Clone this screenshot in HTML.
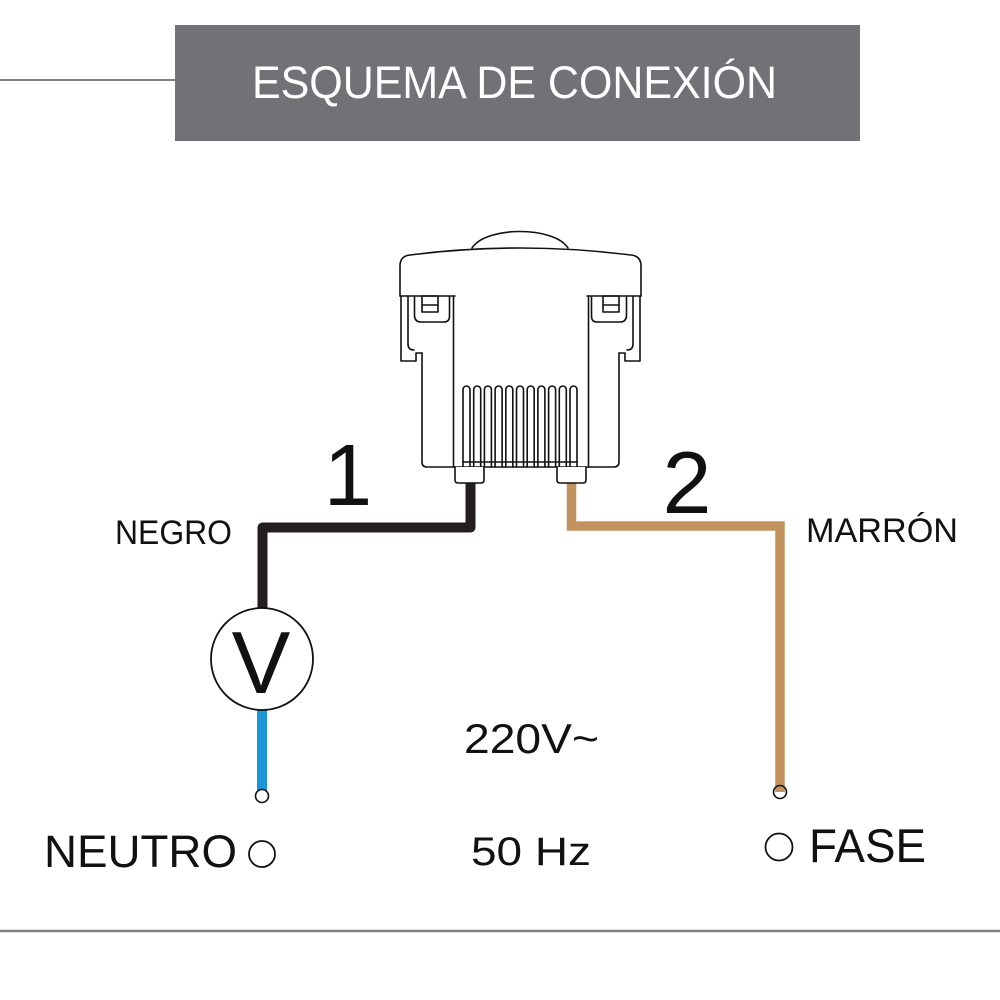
<!DOCTYPE html>
<html>
<head>
<meta charset="utf-8">
<style>
  html,body{margin:0;padding:0;background:#fff;}
  svg{display:block;}
  text{font-family:"Liberation Sans", Arial, sans-serif;}
</style>
</head>
<body>
<svg width="1000" height="1000" viewBox="0 0 1000 1000" xmlns="http://www.w3.org/2000/svg">
  <rect x="0" y="0" width="1000" height="1000" fill="#ffffff"/>

  <!-- Header -->
  <line x1="0" y1="80" x2="176" y2="80" stroke="#7f7f7f" stroke-width="2"/>
  <rect x="175" y="25" width="685" height="116" fill="#727176"/>
  <text x="252" y="98" font-size="45" fill="#ffffff" textLength="525" lengthAdjust="spacingAndGlyphs">ESQUEMA DE CONEXIÓN</text>

  <!-- Bottom line -->
  <line x1="0" y1="931" x2="1000" y2="931" stroke="#7f7f7f" stroke-width="2.5"/>

  <!-- Wires -->
  <path d="M470.5,482 V527.5 H262.5 V610" fill="none" stroke="#231f20" stroke-width="10" stroke-linejoin="round"/>
  <path d="M571.5,482 V526 H780 V792" fill="none" stroke="#c3935f" stroke-width="9.5" stroke-linejoin="miter"/>
  <path d="M262,708 V796" fill="none" stroke="#1b96d6" stroke-width="10"/>

  <!-- Device -->
  <g fill="none" stroke="#111" stroke-width="1.6" stroke-linejoin="round" stroke-linecap="round">
    <!-- dome -->
    <path d="M472,248 C486,226 554,226 568,248"/>
    <!-- cap -->
    <path d="M400,296 V266 Q400,256 410,255 Q520,241 631,255 Q641,256 641,266 V296"/>
    <line x1="400" y1="296" x2="455" y2="296"/>
    <line x1="587" y1="296" x2="641" y2="296"/>
    <!-- central body -->
    <path d="M453.5,296 V467"/>
    <path d="M588.5,296 V467"/>
    <!-- left clip -->
    <path d="M401,296 V361 H416 V353 H422"/>
    <path d="M408,296 V344 Q408,350 414,350"/>
    <!-- left notch -->
    <path d="M414.5,297 V316 Q415,322 421,322 H444 Q449.5,322 449.5,316 V297"/>
    <!-- right clip -->
    <path d="M640,296 V361 H625 V353 H619"/>
    <path d="M633,296 V344 Q633,350 627,350"/>
    <!-- right notch -->
    <path d="M626.5,297 V316 Q626,322 620,322 H597 Q591.5,322 591.5,316 V297"/>
    <!-- latches -->
    <rect x="422" y="296" width="16" height="16"/>
    <line x1="422" y1="305" x2="438" y2="305"/>
    <rect x="603" y="296" width="16" height="16"/>
    <line x1="603" y1="305" x2="619" y2="305"/>
    <!-- lower body -->
    <path d="M422,353 V462 Q422,467 427,467 H614 Q619,467 619,462 V353"/>
    <!-- fins -->
    <path d="M463,467 V389.5 A3.5,3.5 0 0 1 470,389.5 V467"/>
    <path d="M473.7,467 V389.5 A3.5,3.5 0 0 1 480.7,389.5 V467"/>
    <path d="M484.4,467 V389.5 A3.5,3.5 0 0 1 491.4,389.5 V467"/>
    <path d="M495.1,467 V389.5 A3.5,3.5 0 0 1 502.1,389.5 V467"/>
    <path d="M505.8,467 V389.5 A3.5,3.5 0 0 1 512.8,389.5 V467"/>
    <path d="M516.5,467 V389.5 A3.5,3.5 0 0 1 523.5,389.5 V467"/>
    <path d="M527.2,467 V389.5 A3.5,3.5 0 0 1 534.2,389.5 V467"/>
    <path d="M537.9,467 V389.5 A3.5,3.5 0 0 1 544.9,389.5 V467"/>
    <path d="M548.6,467 V389.5 A3.5,3.5 0 0 1 555.6,389.5 V467"/>
    <path d="M559.3,467 V389.5 A3.5,3.5 0 0 1 566.3,389.5 V467"/>
    <path d="M570,467 V389.5 A3.5,3.5 0 0 1 577,389.5 V467"/>
    <line x1="463" y1="462" x2="577" y2="462"/>
    <!-- connectors -->
    <path d="M455,467 V480 Q455,483 458,483 H481 Q484,483 484,480 V467" fill="#fff"/>
    <path d="M557,467 V480 Q557,483 560,483 H583 Q586,483 586,480 V467" fill="#fff"/>
  </g>

  <!-- Voltmeter -->
  <circle cx="262" cy="659" r="51" fill="#fff" stroke="#111" stroke-width="1.8"/>
  <text x="261" y="693" font-size="88" text-anchor="middle" fill="#111">V</text>

  <!-- small terminal circles -->
  <circle cx="262" cy="796" r="6.5" fill="#fff" stroke="#111" stroke-width="1.6"/>
  <path d="M775.3,792 V788 H784.7 V792" fill="#c3935f"/>
  <circle cx="780" cy="792" r="6.5" fill="none" stroke="#111" stroke-width="1.6"/>

  <!-- terminal circles -->
  <circle cx="262" cy="854" r="13" fill="#fff" stroke="#111" stroke-width="1.8"/>
  <circle cx="779" cy="847" r="13.5" fill="#fff" stroke="#111" stroke-width="1.8"/>

  <!-- Labels -->
  <text x="348" y="505" font-size="87" text-anchor="middle" fill="#111">1</text>
  <text x="687" y="513" font-size="88" text-anchor="middle" fill="#111">2</text>
  <text x="115" y="544" font-size="34" fill="#111" textLength="117" lengthAdjust="spacingAndGlyphs">NEGRO</text>
  <text x="806" y="542" font-size="34" fill="#111" textLength="152" lengthAdjust="spacingAndGlyphs">MARRÓN</text>
  <text x="44" y="867" font-size="45" fill="#111" textLength="193" lengthAdjust="spacingAndGlyphs">NEUTRO</text>
  <text x="809" y="862" font-size="47" fill="#111" textLength="117" lengthAdjust="spacingAndGlyphs">FASE</text>
  <text x="464" y="753" font-size="42" fill="#111" textLength="135" lengthAdjust="spacingAndGlyphs">220V~</text>
  <text x="471" y="865" font-size="40" fill="#111" textLength="120" lengthAdjust="spacingAndGlyphs">50 Hz</text>
</svg>
</body>
</html>
